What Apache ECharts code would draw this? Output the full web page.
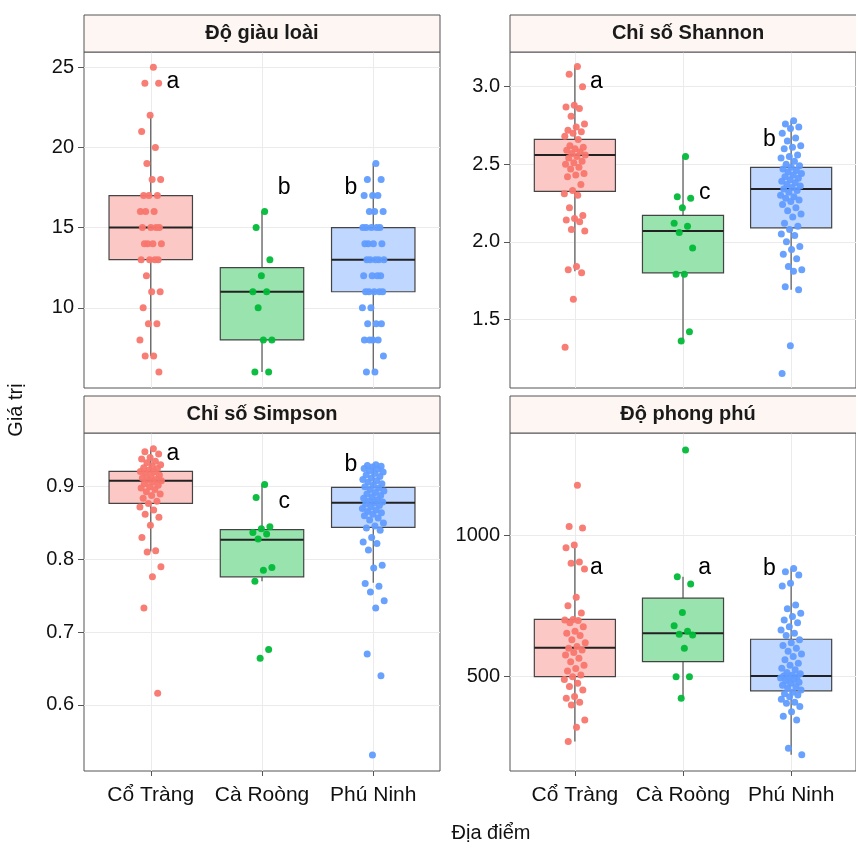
<!DOCTYPE html>
<html><head><meta charset="utf-8">
<script src="https://cdn.jsdelivr.net/npm/echarts@6/dist/echarts.min.js"></script>
<style>html,body{margin:0;padding:0;background:#fff}#chart{width:856px;height:844px}</style>
</head><body><div id="chart"></div>
<script>
// ---------- data ----------
const sites = ['Cổ Tràng', 'Cà Roòng', 'Phú Ninh'];
const panelTitles = ['Độ giàu loài', 'Chỉ số Shannon', 'Chỉ số Simpson', 'Độ phong phú'];
const xTitle = 'Địa điểm';
const yTitle = 'Giá trị';

// Độ giàu loài
const richnessCT = [25,24,24,22,21,20,19,18,18,17,17,17,16,16,16,15,15,15,15,14,14,14,14,13,13,13,13,12,11,11,10,9,9,8,7,7,6];
const richnessCR = [16,15,13,12,11,11,10,8,8,6,6];
const richnessPN = [19,18,18,17,17,17,16,16,16,15,15,15,15,15,14,14,14,14,13,13,13,13,13,12,12,12,12,11,11,11,11,11,10,10,9,9,9,8,8,8,8,7,6,6];
const richnessBox = [[7,13,15,17,22],[6,8,11,12.5,16],[6,11,13,15,19]]; // min,Q1,median,Q3,max
const richnessTicks = [10,15,20,25];
const richnessRange = [5.0, 25.95];
const richnessLetters = ['a','b','b'];
const richnessLetterY = [24.1, 17.5, 17.5];

// Chỉ số Shannon
const shannonCT = [3.13,3.08,3.00,2.88,2.87,2.86,2.81,2.76,2.74,2.72,2.71,2.70,2.68,2.66,2.62,2.61,2.60,2.59,2.58,2.57,2.56,2.55,2.54,2.52,2.51,2.50,2.48,2.47,2.44,2.43,2.42,2.37,2.33,2.31,2.30,2.22,2.17,2.15,2.14,2.13,2.08,2.07,1.84,1.82,1.80,1.63,1.32];
const shannonCR = [2.55,2.29,2.28,2.22,2.12,2.10,2.06,1.96,1.79,1.79,1.42,1.36];
const shannonPN = [2.78,2.76,2.74,2.73,2.70,2.67,2.65,2.62,2.61,2.60,2.56,2.55,2.54,2.52,2.50,2.49,2.48,2.47,2.46,2.45,2.44,2.43,2.42,2.41,2.40,2.39,2.38,2.37,2.36,2.35,2.34,2.33,2.32,2.30,2.29,2.28,2.27,2.26,2.24,2.22,2.20,2.18,2.16,2.12,2.10,2.08,2.05,2.04,2.00,1.97,1.95,1.92,1.89,1.84,1.82,1.81,1.71,1.69,1.33,1.15];
const shannonBox = [[1.81,2.325,2.56,2.66,3.13],[1.37,1.80,2.07,2.17,2.55],[1.69,2.09,2.34,2.48,2.78]];
const shannonTicks = [1.5,2.0,2.5,3.0];
const shannonRange = [1.057, 3.224];
const shannonLetters = ['a','c','b'];
const shannonLetterY = [3.03, 2.32, 2.66];

// Chỉ số Simpson
const simpsonCT = [0.952,0.948,0.945,0.940,0.938,0.935,0.933,0.930,0.928,0.926,0.925,0.923,0.921,0.920,0.918,0.916,0.914,0.912,0.910,0.909,0.908,0.906,0.904,0.902,0.900,0.898,0.896,0.893,0.890,0.888,0.884,0.880,0.877,0.872,0.868,0.862,0.858,0.847,0.830,0.812,0.810,0.790,0.776,0.733,0.616];
const simpsonCR = [0.903,0.885,0.845,0.842,0.837,0.835,0.828,0.789,0.785,0.770,0.676,0.664];
const simpsonPN = [0.930,0.929,0.928,0.927,0.925,0.924,0.922,0.920,0.918,0.916,0.914,0.912,0.910,0.908,0.906,0.904,0.902,0.900,0.898,0.896,0.894,0.892,0.890,0.888,0.886,0.884,0.882,0.880,0.879,0.878,0.876,0.874,0.872,0.870,0.868,0.866,0.864,0.862,0.860,0.857,0.854,0.850,0.846,0.843,0.840,0.830,0.824,0.822,0.813,0.792,0.788,0.767,0.763,0.755,0.743,0.733,0.670,0.640,0.531];
const simpsonBox = [[0.811,0.877,0.908,0.921,0.952],[0.770,0.776,0.827,0.841,0.903],[0.768,0.844,0.878,0.899,0.929]];
const simpsonTicks = [0.6,0.7,0.8,0.9];
const simpsonRange = [0.509, 0.9738];
const simpsonLetters = ['a','c','b'];
const simpsonLetterY = [0.945, 0.879, 0.93];

// Độ phong phú
const abundanceCT = [1176,1030,1025,965,955,905,900,880,780,750,725,702,700,698,690,676,660,653,645,630,620,606,600,594,585,576,565,553,540,529,520,506,500,490,477,465,453,430,424,410,400,347,321,271];
const abundanceCR = [1300,853,827,726,680,660,650,647,600,500,500,424];
const abundancePN = [882,870,859,830,820,753,740,724,712,700,690,676,665,653,645,630,620,610,600,590,580,571,560,547,540,530,524,515,510,505,502,500,498,495,490,485,480,477,470,465,460,453,445,440,435,429,420,410,406,395,376,360,347,247,224];
const abundanceBox = [[271,500,602,702,955],[424,553,653,777,853],[224,450,502,632,882]];
const abundanceTicks = [500,1000];
const abundanceRange = [167, 1360];
const abundanceLetters = ['a','a','b'];
const abundanceLetterY = [885, 885, 880];

// ---------- styles / layout ----------
const colors = ['#F8766D', '#00BA38', '#619CFF'];
const fills = ['#FCC8C5', '#99E3AF', '#C0D7FF'];
const FONT = '"Liberation Sans", Arial, sans-serif';
const layout = [
  {left: 84, top: 52, height: 336},
  {left: 510, top: 52, height: 336},
  {left: 84, top: 433, height: 338},
  {left: 510, top: 433, height: 338}
];
const PW = 356, STRIP = 37;
const letterDx = [0.2, 0.2, -0.2];

const panels = [
  {groups: [richnessCT, richnessCR, richnessPN], box: richnessBox, ticks: richnessTicks, range: richnessRange, letters: richnessLetters, letterY: richnessLetterY, dec: 0},
  {groups: [shannonCT, shannonCR, shannonPN], box: shannonBox, ticks: shannonTicks, range: shannonRange, letters: shannonLetters, letterY: shannonLetterY, dec: 1},
  {groups: [simpsonCT, simpsonCR, simpsonPN], box: simpsonBox, ticks: simpsonTicks, range: simpsonRange, letters: simpsonLetters, letterY: simpsonLetterY, dec: 1},
  {groups: [abundanceCT, abundanceCR, abundancePN], box: abundanceBox, ticks: abundanceTicks, range: abundanceRange, letters: abundanceLetters, letterY: abundanceLetterY, dec: 0}
];

// deterministic horizontal spread (position only)
function jitter(j) { return (((j + 1) * 0.6180339887) % 1 - 0.5) * 0.2; }

const grid = [], xAxis = [], yAxis = [], series = [], graphic = [];

panels.forEach((p, i) => {
  const L = layout[i];
  grid.push({left: L.left, top: L.top, width: PW, height: L.height, show: true, borderColor: '#555', borderWidth: 1, backgroundColor: 'rgba(0,0,0,0)'});
  const bottom = i >= 2;
  xAxis.push({
    type: 'value', gridIndex: i, min: 0.4, max: 3.6,
    axisLine: {show: false},
    axisTick: {show: bottom, customValues: [1,2,3], length: 5, lineStyle: {color: '#555'}},
    axisLabel: {show: bottom, customValues: [1,2,3], formatter: v => sites[Math.round(v) - 1], fontSize: 21, color: '#111', margin: 14, fontFamily: FONT},
    splitLine: {show: true, lineStyle: {color: '#ebebeb', width: 1}}
  });
  yAxis.push({
    type: 'value', gridIndex: i, min: p.range[0], max: p.range[1],
    axisLine: {show: false},
    axisTick: {show: true, customValues: p.ticks, length: 6, lineStyle: {color: '#555'}},
    axisLabel: {customValues: p.ticks, formatter: v => Number(v).toFixed(p.dec), fontSize: 20, color: '#111', margin: 10, fontFamily: FONT},
    splitLine: {show: true, lineStyle: {color: '#ebebeb', width: 1}}
  });

  series.push({
    type: 'custom', xAxisIndex: i, yAxisIndex: i, z: 2,
    data: p.box.map((b, k) => [k + 1].concat(b)),
    encode: {x: 0, y: [1, 2, 3, 4, 5]},
    renderItem: (params, api) => {
      const k = params.dataIndex;
      const x = api.value(0);
      const pMin = api.coord([x, api.value(1)]);
      const pQ1 = api.coord([x, api.value(2)]);
      const pMed = api.coord([x, api.value(3)]);
      const pQ3 = api.coord([x, api.value(4)]);
      const pMax = api.coord([x, api.value(5)]);
      const hw = api.size([0.75, 0])[0] / 2;
      return {type: 'group', children: [
        {type: 'line', shape: {x1: pMin[0], y1: pMin[1], x2: pQ1[0], y2: pQ1[1]}, style: {stroke: '#555', lineWidth: 1.2}},
        {type: 'line', shape: {x1: pQ3[0], y1: pQ3[1], x2: pMax[0], y2: pMax[1]}, style: {stroke: '#555', lineWidth: 1.2}},
        {type: 'rect', shape: {x: pQ1[0] - hw, y: pQ3[1], width: 2 * hw, height: pQ1[1] - pQ3[1]}, style: {fill: fills[k], stroke: '#444', lineWidth: 1.2}},
        {type: 'line', shape: {x1: pMed[0] - hw, y1: pMed[1], x2: pMed[0] + hw, y2: pMed[1]}, style: {stroke: '#222', lineWidth: 2}}
      ]};
    }
  });

  p.groups.forEach((vals, k) => {
    series.push({
      type: 'scatter', xAxisIndex: i, yAxisIndex: i, z: 3,
      symbolSize: 7,
      itemStyle: {color: colors[k], opacity: 0.95},
      data: vals.map((v, j) => [k + 1 + jitter(j), v])
    });
  });

  series.push({
    type: 'scatter', xAxisIndex: i, yAxisIndex: i, z: 4,
    symbolSize: 1, itemStyle: {color: 'rgba(0,0,0,0)'},
    label: {show: true, position: 'inside', formatter: q => q.name, fontSize: 23, color: '#000', textBorderWidth: 0, opacity: 1, fontFamily: FONT},
    data: p.letters.map((l, k) => ({name: l, value: [k + 1 + letterDx[k], p.letterY[k]]}))
  });

  graphic.push({type: 'rect', shape: {x: L.left, y: L.top - STRIP, width: PW, height: STRIP}, style: {fill: '#FDF6F3', stroke: '#555', lineWidth: 1}, z: 10});
  graphic.push({type: 'text', x: L.left + PW / 2, y: L.top - STRIP / 2, z: 11,
    style: {text: panelTitles[i], font: 'bold 20px ' + FONT, fill: '#1a1a1a', align: 'center', verticalAlign: 'middle', textAlign: 'center', textVerticalAlign: 'middle'}});
});

graphic.push({type: 'text', x: 16, y: 410, rotation: Math.PI / 2,
  style: {text: yTitle, font: '20px ' + FONT, fill: '#111', align: 'center', verticalAlign: 'middle', textAlign: 'center', textVerticalAlign: 'middle'}});
graphic.push({type: 'text', x: 491, y: 833,
  style: {text: xTitle, font: '20px ' + FONT, fill: '#111', align: 'center', verticalAlign: 'middle', textAlign: 'center', textVerticalAlign: 'middle'}});

const chart = echarts.init(document.getElementById('chart'), null, {renderer: 'canvas'});
chart.setOption({
  animation: false,
  backgroundColor: '#fff',
  textStyle: {fontFamily: FONT},
  grid, xAxis, yAxis, series, graphic
});
</script></body></html>
